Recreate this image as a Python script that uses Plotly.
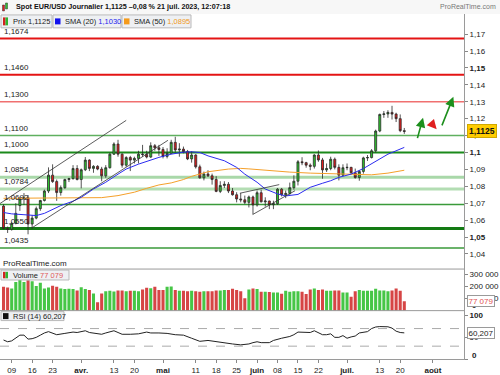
import pandas as pd
import plotly.graph_objects as go

# ---------------- data ----------------
DATES = [d.strftime("%Y-%m-%d") for d in pd.bdate_range("2023-03-07", "2023-07-21")]

OPEN = [1.0683,1.0550,1.0546,1.0581,1.0686,1.0726,1.0732,1.0577,1.0612,1.0668,
        1.0716,1.0772,1.0866,1.0828,1.0763,1.0792,1.0840,1.0845,1.0905,1.0840,
        1.0898,1.0955,1.0906,1.0918,1.0902,1.0862,1.0910,1.0990,1.1050,1.0990,
        1.0925,1.0970,1.0955,1.0965,1.0990,1.0988,1.0973,1.1040,1.1028,1.1018,
        1.0977,1.0995,1.1060,1.1015,1.1020,1.1005,1.0962,1.0985,1.0915,1.0850,
        1.0873,1.0862,1.0840,1.0770,1.0805,1.0812,1.0772,1.0750,1.0725,1.0720,
        1.0705,1.0737,1.0690,1.0762,1.0708,1.0713,1.0691,1.0697,1.0783,1.0750,
        1.0758,1.0792,1.0830,1.0945,1.0940,1.0925,1.0918,1.0985,1.0956,1.0897,
        1.0905,1.0960,1.0912,1.0866,1.0910,1.0912,1.0880,1.0852,1.0888,1.0968,
        1.0970,1.1010,1.1127,1.1225,1.1228,1.1237,1.1227,1.1200,1.1129]
HIGH = [1.0694,1.0562,1.0588,1.0700,1.0737,1.0760,1.0748,1.0630,1.0680,1.0720,
        1.0780,1.0912,1.0930,1.0840,1.0805,1.0845,1.0850,1.0925,1.0925,1.0905,
        1.0973,1.0960,1.0925,1.0925,1.0915,1.0925,1.0998,1.1060,1.1075,1.0995,
        1.0978,1.0980,1.0975,1.1010,1.1045,1.1010,1.1060,1.1050,1.1045,1.1032,
        1.1025,1.1075,1.1093,1.1055,1.1035,1.1015,1.1008,1.0990,1.0928,1.0887,
        1.0895,1.0875,1.0860,1.0830,1.0830,1.0825,1.0790,1.0765,1.0760,1.0745,
        1.0745,1.0745,1.0775,1.0780,1.0735,1.0715,1.0715,1.0790,1.0790,1.0775,
        1.0822,1.0865,1.0955,1.0972,1.0945,1.0935,1.0990,1.1012,1.0968,1.0935,
        1.0975,1.0970,1.0930,1.0930,1.0935,1.0915,1.0905,1.0895,1.0975,1.0985,
        1.1020,1.1135,1.1230,1.1245,1.1250,1.1276,1.1235,1.1225,1.1145]
LOW = [1.0546,1.0524,1.0538,1.0575,1.0655,1.0690,1.0516,1.0550,1.0605,1.0655,
       1.0710,1.0760,1.0820,1.0714,1.0745,1.0785,1.0825,1.0840,1.0835,1.0788,
       1.0890,1.0890,1.0880,1.0895,1.0830,1.0850,1.0905,1.0985,1.0975,1.0910,
       1.0915,1.0890,1.0935,1.0935,1.0975,1.0965,1.0968,1.1010,1.0980,1.0965,
       1.0965,1.0990,1.1000,1.0975,1.0995,1.0955,1.0940,1.0905,1.0845,1.0835,
       1.0855,1.0810,1.0765,1.0760,1.0790,1.0760,1.0745,1.0705,1.0705,1.0695,
       1.0675,1.0635,1.0680,1.0705,1.0680,1.0665,1.0665,1.0690,1.0740,1.0730,
       1.0750,1.0780,1.0805,1.0925,1.0910,1.0895,1.0905,1.0945,1.0845,1.0885,
       1.0895,1.0900,1.0835,1.0860,1.0895,1.0870,1.0845,1.0833,1.0875,1.0950,
       1.0965,1.1000,1.1120,1.1205,1.1205,1.1195,1.1180,1.1120,1.1110]
CLOSE = [1.0550,1.0546,1.0581,1.0640,1.0726,1.0732,1.0577,1.0612,1.0668,1.0716,
         1.0772,1.0866,1.0828,1.0763,1.0792,1.0840,1.0845,1.0905,1.0840,1.0898,
         1.0955,1.0906,1.0918,1.0902,1.0862,1.0910,1.0990,1.1050,1.0990,1.0925,
         1.0970,1.0955,1.0965,1.0990,1.0988,1.0973,1.1040,1.1028,1.1018,1.0977,
         1.0995,1.1060,1.1015,1.1020,1.1005,1.0962,1.0985,1.0915,1.0850,1.0873,
         1.0862,1.0840,1.0770,1.0805,1.0812,1.0772,1.0750,1.0725,1.0720,1.0705,
         1.0737,1.0690,1.0762,1.0708,1.0713,1.0691,1.0697,1.0783,1.0750,1.0758,
         1.0792,1.0830,1.0945,1.0940,1.0925,1.0918,1.0985,1.0956,1.0897,1.0905,
         1.0960,1.0912,1.0866,1.0910,1.0912,1.0880,1.0852,1.0888,1.0968,1.0970,
         1.1010,1.1127,1.1225,1.1228,1.1237,1.1227,1.1200,1.1129,1.1125]
VOLUME = [198000,192000,184000,239000,258000,239000,253000,245000,204000,231000,
          184000,192000,206000,198000,184000,179000,182000,179000,168000,195000,
          179000,171000,143000,69000,143000,162000,165000,159000,168000,168000,
          162000,165000,165000,162000,176000,190000,187000,198000,171000,171000,
          198000,201000,171000,165000,165000,162000,165000,162000,157000,162000,
          162000,162000,168000,168000,171000,171000,182000,171000,162000,102000,
          176000,184000,179000,157000,157000,154000,151000,151000,140000,165000,
          157000,162000,162000,157000,138000,176000,184000,171000,176000,165000,
          165000,168000,168000,151000,151000,116000,162000,171000,165000,165000,
          165000,182000,168000,168000,162000,168000,184000,165000,77079]

SMA20_IDX = [0,2,5,8,10,12,14,17,19,22,25,28,30,33,36,38,41,44,46,48,50,52,54,57,59,62,64,67,69,72,75,78,80,82,85,88,91,94,98]
SMA20_VAL = [1.0645,1.0637,1.0632,1.0627,1.0640,1.0662,1.0686,1.0712,1.0735,1.0784,1.0824,1.0872,1.0902,1.0931,
             1.0955,1.0971,1.0990,1.1002,1.1004,1.1000,1.0980,1.0965,1.0951,1.0912,1.0872,1.0824,1.0784,1.0755,
             1.0743,1.0752,1.0794,1.0818,1.0833,1.0853,1.0872,1.0905,1.0950,1.0990,1.1030]
SMA50_IDX = [0,8,16,24,28,32,35,38,41,44,46,50,55,58,60,65,70,75,80,85,90,94,98]
SMA50_VAL = [1.0729,1.0730,1.0731,1.0733,1.0745,1.0765,1.0788,1.0808,1.0820,1.0840,1.0859,1.0886,1.0902,1.0906,
             1.0903,1.0893,1.0884,1.0878,1.0875,1.0872,1.0868,1.0878,1.0895]
RSI_IDX = [0,1,2,3,4,5,6,7,8,9,10,11,12,13,15,17,18,19,20,21,22,23,24,25,26,27,28,29,31,33,35,36,38,40,42,44,46,48,
           50,52,53,56,58,60,61,62,63,65,66,67,68,70,71,72,73,75,76,77,78,79,80,81,82,83,84,85,86,87,88,89,90,91,92,
           93,94,95,96,97,98]
RSI_VAL = [44,40,42,48,55,55,46,47,50,55,60,63,59,56,59,62,61,63,65,61,60,59,57,60,63,65,61,57,57,58,62,60,60,59,56,55,
           48,41,43,40,38,35,33,35,38,40,38,38,43,46,48,52,56,62,62,61,65,60,56,56,58,50,50,54,48,51,53,60,62,63,70,73.5,
           74.5,74.5,74,71,64,61,60.207]

LEVELS = [1.1674, 1.1460, 1.1300, 1.1100, 1.1000, 1.0854, 1.0784, 1.0692, 1.0550, 1.0435]
LEVEL_TEXT = ["1,1674", "1,1460", "1,1300", "1,1100", "1,1000", "1,0854", "1,0784", "1,0692", "1,0550", "1,0435"]
LEVEL_COLOR = ["#e41414", "#e41414", "#f07070", "#5fb05f", "#1b8a1b", "#a9d8a9", "#b3ddb3", "#3a9a3a", "#137a13", "#3a9a3a"]
LEVEL_WIDTH = [2, 2, 1.3, 1.5, 2, 3, 3, 1.5, 3, 1.5]

PRICE_TICKS = [1.04,1.05,1.06,1.07,1.08,1.09,1.10,1.11,1.12,1.13,1.14,1.15,1.16,1.17]
PRICE_TICK_TEXT = ["1,04","<b>1,05</b>","1,06","1,07","1,08","1,09","<b>1,1</b>","1,11","1,12","1,13","1,14","<b>1,15</b>","1,16","1,17"]
VOL_TICKS = [100000, 200000, 300000]
VOL_TICK_TEXT = ["100 000", "200 000", "300 000"]
RSI_TICKS = [0, 50, 100]
RSI_TICK_TEXT = ["", "50", "<b>100</b>"]
X_TICKS = ["2023-03-09","2023-03-16","2023-03-23","2023-04-03","2023-04-13","2023-04-20","2023-05-01","2023-05-11",
           "2023-05-18","2023-05-25","2023-06-01","2023-06-08","2023-06-15","2023-06-22","2023-07-03","2023-07-13",
           "2023-07-20","2023-08-01"]
X_TICK_TEXT = ["09","16","23","<b>avr.</b>","13","20","<b>mai</b>","11","18","25","<b>juin</b>","08","15","22",
               "<b>juil.</b>","13","20","<b>août</b>"]

TRENDLINES = [("2023-03-06 03:20", 1.0698, "2023-04-18", 1.1190),
              ("2023-03-16", 1.0555, "2023-05-02 05:00", 1.1072),
              ("2023-05-25 19:00", 1.0759, "2023-06-08 10:00", 1.0810),
              ("2023-05-30 22:00", 1.0633, "2023-06-14 07:00", 1.0774)]
ARROWS = [("2023-07-27 14:00", 1.1206, -6, 22, "#1d8f1d"),
          ("2023-08-01 22:00", 1.1137, -7, -8, "#e02020"),
          ("2023-08-08 00:00", 1.1329, -12, 30, "#1d8f1d")]

X_RANGE = ["2023-03-06 03:20", "2023-08-10 14:24"]

# ---------------- helpers (pixel -> paper) ----------------
W, H = 500, 375
def px(x): return x / W
def py(y): return 1 - y / H

FONT = "Liberation Sans, Arial, sans-serif"
XDOM = [0, px(464)]
MAIN_DOM = [py(270.5), py(14)]
VOL_DOM = [py(312.3), py(270.5)]
RSI_DOM = [py(361.3), py(312.3)]

fig = go.Figure()

fig.add_trace(go.Candlestick(
    x=DATES, open=OPEN, high=HIGH, low=LOW, close=CLOSE,
    increasing=dict(fillcolor="#2fc22f", line=dict(color="#2a2a2a", width=0.8)),
    decreasing=dict(fillcolor="#e01e1e", line=dict(color="#2a2a2a", width=0.8)),
    whiskerwidth=0, hoverinfo="skip", xaxis="x", yaxis="y"))

fig.add_trace(go.Scatter(x=[DATES[i] for i in SMA50_IDX], y=SMA50_VAL, mode="lines",
                         line=dict(color="#f5a02a", width=1), hoverinfo="skip", xaxis="x", yaxis="y"))
fig.add_trace(go.Scatter(x=[DATES[i] for i in SMA20_IDX], y=SMA20_VAL, mode="lines",
                         line=dict(color="#2b2bf0", width=1), hoverinfo="skip", xaxis="x", yaxis="y"))

vol_colors = ["#46c646" if c >= o else "#d64545" for o, c in zip(OPEN, CLOSE)]
fig.add_trace(go.Bar(x=DATES, y=VOLUME, marker=dict(color=vol_colors, line=dict(width=0)),
                     width=0.75 * 86400000, hoverinfo="skip", xaxis="x2", yaxis="y2"))

fig.add_trace(go.Scatter(x=[DATES[i] for i in RSI_IDX], y=RSI_VAL, mode="lines",
                         line=dict(color="#222222", width=1), hoverinfo="skip", xaxis="x3", yaxis="y3"))

rb = [dict(bounds=["sat", "mon"])]
xcommon = dict(domain=XDOM, range=X_RANGE, rangebreaks=rb, showgrid=False, zeroline=False, fixedrange=True)
ycommon = dict(side="right", showgrid=False, zeroline=False, ticks="outside", ticklen=3, tickcolor="#888",
               showline=True, linecolor="#9a9a9a", linewidth=1, tickfont=dict(size=8, color="#222", family=FONT),
               fixedrange=True)

fig.update_layout(
    width=W, height=H, margin=dict(l=0, r=0, t=0, b=0),
    paper_bgcolor="white", plot_bgcolor="white", showlegend=False,
    font=dict(family=FONT, size=8, color="#222"),
    xaxis=dict(**xcommon, anchor="y", showticklabels=False, rangeslider=dict(visible=False)),
    xaxis2=dict(**xcommon, anchor="y2", showticklabels=False, matches="x"),
    xaxis3=dict(**xcommon, anchor="y3", matches="x", tickvals=X_TICKS, ticktext=X_TICK_TEXT,
                ticks="outside", ticklen=3, tickcolor="#888", showline=True, linecolor="#9a9a9a",
                tickfont=dict(size=8, color="#222", family=FONT)),
    yaxis=dict(**ycommon, domain=MAIN_DOM, anchor="x", range=[1.03106, 1.18194],
               tickvals=PRICE_TICKS, ticktext=PRICE_TICK_TEXT),
    yaxis2=dict(**ycommon, domain=VOL_DOM, anchor="x2", range=[0, 345500],
                tickvals=VOL_TICKS, ticktext=VOL_TICK_TEXT),
    yaxis3=dict(**ycommon, domain=RSI_DOM, anchor="x3", range=[0, 110.7],
                tickvals=RSI_TICKS, ticktext=RSI_TICK_TEXT),
)

shapes = []
ann = []

# horizontal levels + labels
for lv, txt, col, wd in zip(LEVELS, LEVEL_TEXT, LEVEL_COLOR, LEVEL_WIDTH):
    shapes.append(dict(type="line", xref="paper", yref="y", x0=XDOM[0], x1=XDOM[1], y0=lv, y1=lv,
                       line=dict(color=col, width=wd), layer="below"))
    ann.append(dict(xref="paper", yref="y", x=px(2), y=lv, text=txt, showarrow=False, xanchor="left",
                    yanchor="bottom", yshift=1, font=dict(size=8, color="#222", family=FONT)))

# trend lines
for x0, y0, x1, y1 in TRENDLINES:
    shapes.append(dict(type="line", xref="x", yref="y", x0=x0, y0=y0, x1=x1, y1=y1,
                       line=dict(color="#333333", width=0.8), layer="above"))

# arrows
for x, y, axp, ayp, col in ARROWS:
    ann.append(dict(xref="x", yref="y", x=x, y=y, ax=axp, ay=ayp, text="", showarrow=True,
                    arrowhead=2, arrowsize=1.2, arrowwidth=1.6, arrowcolor=col))

# RSI 70/30 dashed
for v in (70, 30):
    shapes.append(dict(type="line", xref="paper", yref="y3", x0=XDOM[0], x1=XDOM[1], y0=v, y1=v,
                       line=dict(color="#aaaaaa", width=1, dash="dash"), layer="below"))

# panel separators
for yy in (270.5, 312.3):
    shapes.append(dict(type="line", xref="paper", yref="paper", x0=0, x1=XDOM[1], y0=py(yy), y1=py(yy),
                       line=dict(color="#9a9a9a", width=1)))

# header
shapes.append(dict(type="rect", xref="paper", yref="paper", x0=0, x1=1, y0=py(14), y1=1,
                   fillcolor="#f7f7f7", line=dict(width=0), layer="below"))
shapes.append(dict(type="rect", xref="paper", yref="paper", x0=px(2.5), x1=px(4.5), y0=py(11), y1=py(5),
                   fillcolor="#e01e1e", line=dict(color="#333", width=0.5)))
shapes.append(dict(type="rect", xref="paper", yref="paper", x0=px(5.5), x1=px(7.5), y0=py(9), y1=py(3),
                   fillcolor="#2fc22f", line=dict(color="#333", width=0.5)))
ann.append(dict(xref="paper", yref="paper", x=px(14), y=py(7), xanchor="left", yanchor="middle", showarrow=False,
                text="<b>Spot EUR/USD Journalier 1,1125 \u20130,08 % 21 juil. 2023, 12:07:18</b>",
                font=dict(size=7.2, color="#111", family=FONT)))
ann.append(dict(xref="paper", yref="paper", x=px(498), y=py(7), xanchor="right", yanchor="middle", showarrow=False,
                text="ProRealTime.com", font=dict(size=7, color="#777", family=FONT)))

# legend boxes
def box(x0, x1, y0, y1):
    shapes.append(dict(type="rect", xref="paper", yref="paper", x0=px(x0), x1=px(x1), y0=py(y1), y1=py(y0),
                       fillcolor="#eef0f3", line=dict(color="#b9b9b9", width=1)))

def icon(x0, x1, y0, y1, col):
    shapes.append(dict(type="rect", xref="paper", yref="paper", x0=px(x0), x1=px(x1), y0=py(y1), y1=py(y0),
                       fillcolor=col, line=dict(width=0)))

def label(x, y, text, size=7.5, anchor="left", color="#222"):
    ann.append(dict(xref="paper", yref="paper", x=px(x), y=py(y), xanchor=anchor, yanchor="middle",
                    showarrow=False, text=text, font=dict(size=size, color=color, family=FONT)))

box(1, 52, 15, 28); icon(3, 5.5, 17.5, 25.5, "#d42020"); icon(5.5, 8, 17.5, 25.5, "#2fb52f")
label(10.5, 21.5, "Prix 1,1125")
box(53, 121, 15, 28); icon(55, 60.5, 18.5, 24.5, "#1111ee")
label(62.5, 21.5, "SMA (20) <span style='color:#2525ee'>1,1030</span>")
box(122, 191, 15, 28); icon(124, 129.5, 18.5, 24.5, "#f59a1a")
label(131.5, 21.5, "SMA (50) <span style='color:#f09a20'>1,0895</span>")

label(1, 264.5, "ProRealTime.com", size=8)
box(1, 69, 271.5, 281.5); icon(3, 5.5, 273.3, 279.8, "#d42020"); icon(5.5, 8, 273.3, 279.8, "#2fb52f")
label(10.5, 276.5, "Volume <span style='color:#e05a5a'>77 079</span>")
box(1, 64, 313.3, 322.3); icon(3, 8.5, 314.8, 320.8, "#111111")
label(10.5, 317.8, "RSI (14) 60,207")

# zero labels of the lower panels, raised inside their panel as in the reference
label(470, 307.5, "<b>0</b>", size=8)
label(470, 357.5, "<b>0</b>", size=8)

# right value boxes
ann.append(dict(xref="paper", yref="y", x=px(466.5), y=CLOSE[-1], xanchor="left", yanchor="middle", showarrow=False,
                text="<b>1,1125</b>", bgcolor="#ffcc00", bordercolor="#d0a800", borderwidth=1, borderpad=1,
                font=dict(size=8.5, color="#111", family=FONT)))
ann.append(dict(xref="paper", yref="y2", x=px(466.5), y=VOLUME[-1], xanchor="left", yanchor="middle", showarrow=False,
                text="77 079", bgcolor="white", bordercolor="#9a9a9a", borderwidth=1, borderpad=0.5,
                font=dict(size=8, color="#e05050", family=FONT)))
ann.append(dict(xref="paper", yref="y3", x=px(466.5), y=RSI_VAL[-1], xanchor="left", yanchor="middle", showarrow=False,
                text="60,207", bgcolor="white", bordercolor="#9a9a9a", borderwidth=1, borderpad=0.5,
                font=dict(size=8, color="#222", family=FONT)))

fig.update_layout(shapes=shapes, annotations=ann)
fig.write_html("out.html", config={"displayModeBar": False, "staticPlot": True},
               post_script="document.body.style.margin='0';document.body.style.overflow='hidden';")
